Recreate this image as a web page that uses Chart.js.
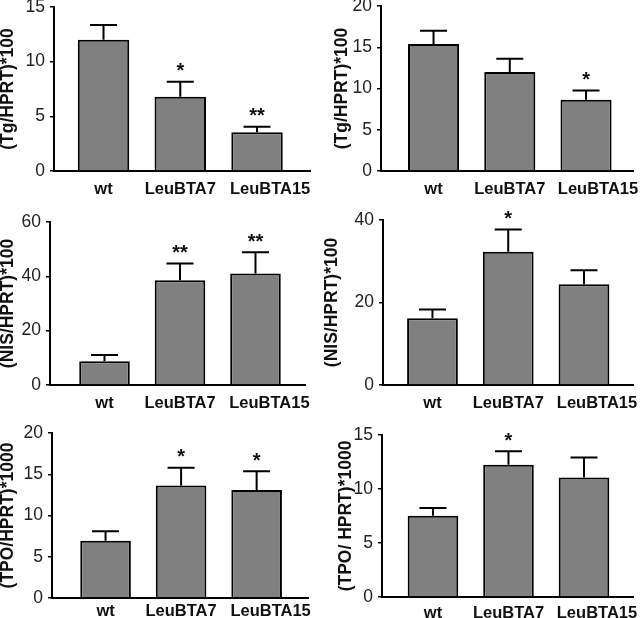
<!DOCTYPE html>
<html>
<head>
<meta charset="utf-8">
<script src="https://cdn.jsdelivr.net/npm/chart.js@4.4.1/dist/chart.umd.min.js"></script>
<style>
  body { margin: 0; background: #fff; }
  #lienzo { position: relative; width: 640px; height: 618px; }
  #lienzo canvas { position: absolute; }
</style>
</head>
<body>
<div id="lienzo">
  <canvas id="g1" width="320" height="200" style="left:0;top:0"></canvas>
  <canvas id="g2" width="320" height="200" style="left:320px;top:0"></canvas>
  <canvas id="g3" width="320" height="210" style="left:0;top:200px"></canvas>
  <canvas id="g4" width="320" height="210" style="left:320px;top:200px"></canvas>
  <canvas id="g5" width="320" height="208" style="left:0;top:410px"></canvas>
  <canvas id="g6" width="320" height="208" style="left:320px;top:410px"></canvas>
</div>
<script>
const categorias = ['wt', 'LeuBTA7', 'LeuBTA15'];

// Tg
const tgA = [12.0, 6.8, 3.55];
const tgErrA = [1.35, 1.37, 0.49];
const tgMarcasA = ['', '*', '**'];
const tgB = [15.4, 12.0, 8.65];
const tgErrB = [1.6, 1.6, 1.1];
const tgMarcasB = ['', '', '*'];

// NIS
const nisA = [8.7, 38.6, 41.0];
const nisErrA = [2.3, 6.1, 7.9];
const nisMarcasA = ['', '**', '**'];
const nisB = [16.2, 32.3, 24.4];
const nisErrB = [2.1, 5.4, 3.4];
const nisMarcasB = ['', '*', ''];

// TPO
const tpoA = [6.95, 13.65, 13.1];
const tpoErrA = [1.15, 2.15, 2.25];
const tpoMarcasA = ['', '*', '*'];
const tpoB = [7.53, 12.24, 11.07];
const tpoErrB = [0.7, 1.25, 1.85];
const tpoMarcasB = ['', '*', ''];

// valores de los ejes Y
const ticks15 = [0, 5, 10, 15];
const ticks20 = [0, 5, 10, 15, 20];
const ticks60 = [0, 20, 40, 60];
const ticks40 = [0, 20, 40];

const fuente = "'Liberation Sans', Arial, sans-serif";

// dibuja las barras de error y los asteriscos
const barrasError = {
    id: 'barrasError',
    afterDatasetsDraw(chart) {
        const ctx = chart.ctx;
        const y = chart.scales.y;
        const ds = chart.data.datasets[0];
        const meta = chart.getDatasetMeta(0);
        ctx.save();
        ctx.strokeStyle = '#000';
        ctx.lineWidth = 2;
        meta.data.forEach((barra, i) => {
            const tope = y.getPixelForValue(ds.data[i].y + ds.errores[i]);
            ctx.beginPath();
            ctx.moveTo(barra.x, barra.y);
            ctx.lineTo(barra.x, tope);
            ctx.moveTo(barra.x - 13.5, tope);
            ctx.lineTo(barra.x + 13.5, tope);
            ctx.stroke();
            if (ds.marcas[i]) {
                ctx.fillStyle = '#111';
                ctx.font = 'bold 20px ' + fuente;
                ctx.textAlign = 'center';
                ctx.textBaseline = 'alphabetic';
                ctx.fillText(ds.marcas[i], barra.x, tope - 4.5);
            }
        });
        ctx.restore();
    }
};

function crearPanel(p) {
    const ctx = document.getElementById(p.id).getContext('2d');
    const alto = ctx.canvas.height;
    const ancho = ctx.canvas.width;

    return new Chart(ctx, {
        type: 'bar',
        data: {
            datasets: [{
                data: p.valores.map((v, i) => ({ x: i, y: v })),
                errores: p.errores,
                marcas: p.marcas,
                backgroundColor: '#808080',
                borderColor: '#000',
                borderWidth: 2,
                barPercentage: 0.67,
                categoryPercentage: 1
            }]
        },
        options: {
            responsive: false,
            animation: false,
            devicePixelRatio: 1,
            layout: { padding: { left: 0, top: p.arriba, right: ancho - p.derecha, bottom: 0 } },
            plugins: { legend: { display: false }, tooltip: { enabled: false } },
            scales: {
                x: {
                    type: 'linear',
                    offset: false,
                    min: p.xMin,
                    max: p.xMax,
                    grid: { display: false, drawTicks: false, offset: false },
                    border: { display: true, color: '#000', width: 2 },
                    // la etiqueta LeuBTA15 va algo desplazada a la derecha
                    afterBuildTicks: s => { s.ticks = [0, 1, 2 + p.desplazamiento].map(v => ({ value: v })); },
                    ticks: {
                        padding: p.etiquetaPad,
                        color: '#111',
                        autoSkip: false,
                        maxRotation: 0,
                        font: { family: fuente, size: 16.5, weight: 'bold' },
                        callback: (v, i) => categorias[i]
                    },
                    afterFit: s => { s.height = alto - p.abajo; s.paddingLeft = 0; s.paddingRight = 0; }
                },
                y: {
                    min: 0,
                    max: p.ticks[p.ticks.length - 1],
                    afterBuildTicks: s => { s.ticks = p.ticks.map(v => ({ value: v })); },
                    grid: { drawOnChartArea: false, drawTicks: true, tickLength: 4, color: '#000', lineWidth: 1.5 },
                    border: { color: '#000', width: 2 },
                    ticks: { padding: 5, color: '#222', font: { family: fuente, size: 17.5 } },
                    title: {
                        display: true,
                        text: p.titulo,
                        color: '#111',
                        font: { family: fuente, size: 17.5, weight: 'bold' },
                        padding: { top: p.tituloPad, bottom: 0 }
                    },
                    afterFit: s => { s.width = p.izquierda; s.paddingTop = 0; s.paddingBottom = 0; }
                }
            }
        },
        plugins: [barrasError]
    });
}

crearPanel({ id: 'g1', valores: tgA, errores: tgErrA, marcas: tgMarcasA, ticks: ticks15,
    titulo: '(Tg/HPRT)*100', tituloPad: -2, izquierda: 54, arriba: 7, derecha: 310, abajo: 171,
    xMin: -0.645, xMax: 2.69, desplazamiento: 0.17, etiquetaPad: 9 });
crearPanel({ id: 'g2', valores: tgB, errores: tgErrB, marcas: tgMarcasB, ticks: ticks20,
    titulo: '(Tg/HPRT)*100', tituloPad: 11.8, izquierda: 61, arriba: 6, derecha: 313, abajo: 171,
    xMin: -0.689, xMax: 2.616, desplazamiento: 0.157, etiquetaPad: 9 });
crearPanel({ id: 'g3', valores: nisA, errores: nisErrA, marcas: nisMarcasA, ticks: ticks60,
    titulo: '(NIS/HPRT)*100', tituloPad: -2, izquierda: 50, arriba: 22, derecha: 305, abajo: 185,
    xMin: -0.722, xMax: 2.656, desplazamiento: 0.185, etiquetaPad: 9 });
crearPanel({ id: 'g4', valores: nisB, errores: nisErrB, marcas: nisMarcasB, ticks: ticks40,
    titulo: '(NIS/HPRT)*100', tituloPad: 1.8, izquierda: 63, arriba: 20, derecha: 313, abajo: 185,
    xMin: -0.653, xMax: 2.647, desplazamiento: 0.172, etiquetaPad: 9 });
crearPanel({ id: 'g5', valores: tpoA, errores: tpoErrA, marcas: tpoMarcasA, ticks: ticks20,
    titulo: '(TPO/HPRT)*1000', tituloPad: -2, izquierda: 52, arriba: 23, derecha: 308, abajo: 188,
    xMin: -0.709, xMax: 2.68, desplazamiento: 0.185, etiquetaPad: 4 });
crearPanel({ id: 'g6', valores: tpoB, errores: tpoErrB, marcas: tpoMarcasB, ticks: ticks15,
    titulo: '(TPO/ HPRT)*1000', tituloPad: 15.2, izquierda: 62, arriba: 25, derecha: 313, abajo: 187,
    xMin: -0.675, xMax: 2.649, desplazamiento: 0.172, etiquetaPad: 7 });
</script>
</body>
</html>
